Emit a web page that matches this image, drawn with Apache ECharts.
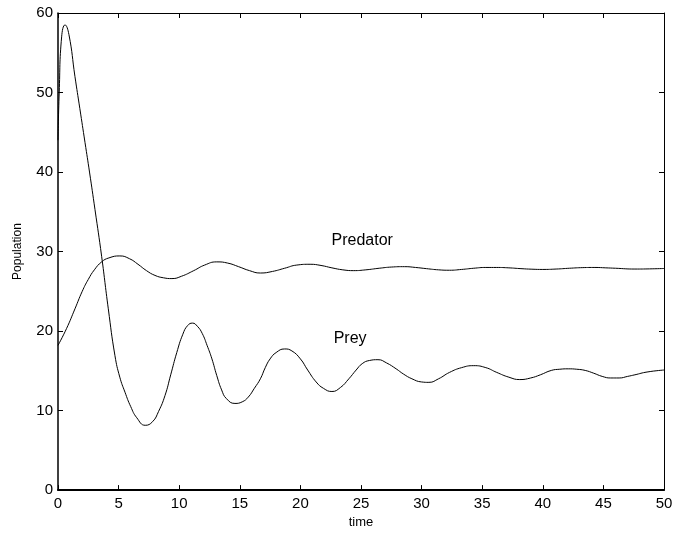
<!DOCTYPE html>
<html>
<head>
<meta charset="utf-8">
<script src="https://cdn.jsdelivr.net/npm/echarts@6/dist/echarts.min.js"></script>
<style>
html,body{margin:0;padding:0;background:#fff;}
#chart{width:676px;height:534px;}
</style>
</head>
<body>
<div id="chart"></div>
<script>
// Data
var preyTime = [0, 0.1, 0.3, 0.58, 0.9, 1.4, 1.8, 2.23, 2.6, 3.05, 3.6, 4.15, 4.7, 5.1, 5.53, 6.0, 6.5, 7.2, 7.8, 8.3, 8.83, 9.3, 9.8, 10.3, 10.7, 11.1, 11.5, 11.9, 12.3, 12.7, 13.1, 13.5, 13.9, 14.6, 15.2, 15.7, 16.2, 16.7, 17.1, 17.5, 18.0, 18.7, 19.3, 20.0, 20.6, 21.3, 21.9, 22.6, 23.3, 24.0, 24.6, 25.1, 25.7, 26.4, 27.1, 27.9, 28.5, 29.2, 30.0, 30.6, 31.4, 32.3, 33.3, 34.3, 35.3, 36.2, 37.2, 38.1, 39.0, 39.8, 40.7, 41.4, 42.1, 42.8, 43.5, 44.2, 44.9, 45.6, 46.3, 47.0, 47.6, 48.6, 50];
var preyValues = [44, 50, 57, 58.5, 57.3, 52, 48, 43.7, 40, 35.3, 29.4, 22.8, 16.9, 14.2, 12.3, 10.5, 9.1, 8.15, 8.6, 9.9, 11.9, 14.5, 17.3, 19.6, 20.7, 21.0, 20.6, 19.7, 18.2, 16.5, 14.4, 12.6, 11.5, 10.9, 11.1, 11.7, 12.8, 14.0, 15.4, 16.5, 17.3, 17.75, 17.5, 16.5, 15.1, 13.6, 12.8, 12.4, 12.9, 14.0, 15.1, 15.9, 16.3, 16.4, 16.0, 15.25, 14.6, 14.0, 13.6, 13.55, 14.0, 14.8, 15.4, 15.65, 15.4, 14.8, 14.2, 13.9, 14.1, 14.5, 15.05, 15.2, 15.25, 15.2, 15.05, 14.7, 14.3, 14.1, 14.1, 14.3, 14.5, 14.85, 15.1];
var predTime = [0, 0.7, 1.4, 2.0, 2.5, 3.0, 3.6, 4.2, 5.1, 5.9, 6.6, 7.3, 8.0, 8.7, 9.4, 10.2, 11.2, 12.1, 13.1, 14.0, 14.9, 15.8, 16.7, 17.7, 18.7, 19.7, 20.8, 21.7, 22.6, 23.5, 24.4, 25.4, 26.5, 27.5, 28.6, 29.5, 30.4, 31.4, 32.3, 33.3, 34.3, 35.3, 36.2, 37.2, 38.2, 39.1, 40.0, 41.1, 42.2, 43.3, 44.3, 45.2, 46.0, 47.6, 48.8, 50];
var predValues = [18.2, 20.3, 22.8, 25.0, 26.5, 27.7, 28.7, 29.2, 29.45, 29.1, 28.4, 27.6, 27.0, 26.7, 26.6, 26.9, 27.6, 28.3, 28.7, 28.55, 28.1, 27.6, 27.3, 27.5, 27.9, 28.3, 28.4, 28.25, 27.95, 27.7, 27.6, 27.7, 27.9, 28.05, 28.1, 28.0, 27.85, 27.7, 27.65, 27.75, 27.9, 28.0, 28.0, 27.95, 27.85, 27.78, 27.75, 27.8, 27.9, 27.98, 28.0, 27.95, 27.9, 27.8, 27.82, 27.87];
var xTicks = [0, 5, 10, 15, 20, 25, 30, 35, 40, 45, 50];
var yTicks = [0, 10, 20, 30, 40, 50, 60];
var labelPredator = {text: 'Predator', t: 25.1, v: 31.4};
var labelPrey = {text: 'Prey', t: 24.1, v: 19.1};

function zip(a, b) { return a.map(function (x, i) { return [x, b[i]]; }); }

var FONT = 'Liberation Sans, Arial, Helvetica, sans-serif';
var chart = echarts.init(document.getElementById('chart'), null, {renderer: 'canvas'});

function axisBase(extra) {
  var o = {
    type: 'value',
    splitLine: {show: false},
    axisTick: {show: true, inside: true, length: 5, lineStyle: {color: '#000', width: 1}},
    axisLine: {show: true, onZero: false, lineStyle: {color: '#000', width: 1}},
    axisLabel: {show: false}
  };
  for (var k in extra) o[k] = extra[k];
  return o;
}

var option = {
  backgroundColor: '#fff',
  animation: false,
  grid: {left: 58, right: 12, top: 13, bottom: 42},
  xAxis: [
    axisBase({
      position: 'bottom', min: xTicks[0], max: xTicks[xTicks.length - 1], interval: 5,
      axisLine: {show: true, onZero: false, lineStyle: {color: '#000', width: 2}},
      axisLabel: {show: true, color: '#000', fontSize: 15, fontFamily: FONT, margin: 6},
      name: 'time', nameLocation: 'middle', nameGap: 24,
      nameTextStyle: {color: '#000', fontSize: 13, fontFamily: FONT}
    }),
    axisBase({position: 'top', min: 0, max: 50, interval: 5})
  ],
  yAxis: [
    axisBase({
      position: 'left', min: yTicks[0], max: yTicks[yTicks.length - 1], interval: 10,
      axisLine: {show: true, onZero: false, lineStyle: {color: '#000', width: 1.5}},
      axisLabel: {show: true, color: '#000', fontSize: 15, fontFamily: FONT, margin: 5},
      name: 'Population', nameLocation: 'middle', nameGap: 34,
      nameTextStyle: {color: '#000', fontSize: 12, fontFamily: FONT}
    }),
    axisBase({position: 'right', min: 0, max: 60, interval: 10})
  ],
  series: [
    {
      name: 'Prey', type: 'line', xAxisIndex: 0, yAxisIndex: 0,
      data: zip(preyTime, preyValues), showSymbol: false, smooth: 0.5,
      lineStyle: {color: '#000', width: 1}, silent: true,
      markPoint: {
        symbol: 'circle', symbolSize: 0, silent: true,
        label: {show: true, formatter: labelPrey.text, color: '#000', fontSize: 16, fontFamily: FONT, position: 'inside'},
        data: [{coord: [labelPrey.t, labelPrey.v]}]
      }
    },
    {
      name: 'Predator', type: 'line', xAxisIndex: 0, yAxisIndex: 0,
      data: zip(predTime, predValues), showSymbol: false, smooth: 0.5,
      lineStyle: {color: '#000', width: 1}, silent: true,
      markPoint: {
        symbol: 'circle', symbolSize: 0, silent: true,
        label: {show: true, formatter: labelPredator.text, color: '#000', fontSize: 16, fontFamily: FONT, position: 'inside'},
        data: [{coord: [labelPredator.t, labelPredator.v]}]
      }
    }
  ]
};
chart.setOption(option);
</script>
</body>
</html>
